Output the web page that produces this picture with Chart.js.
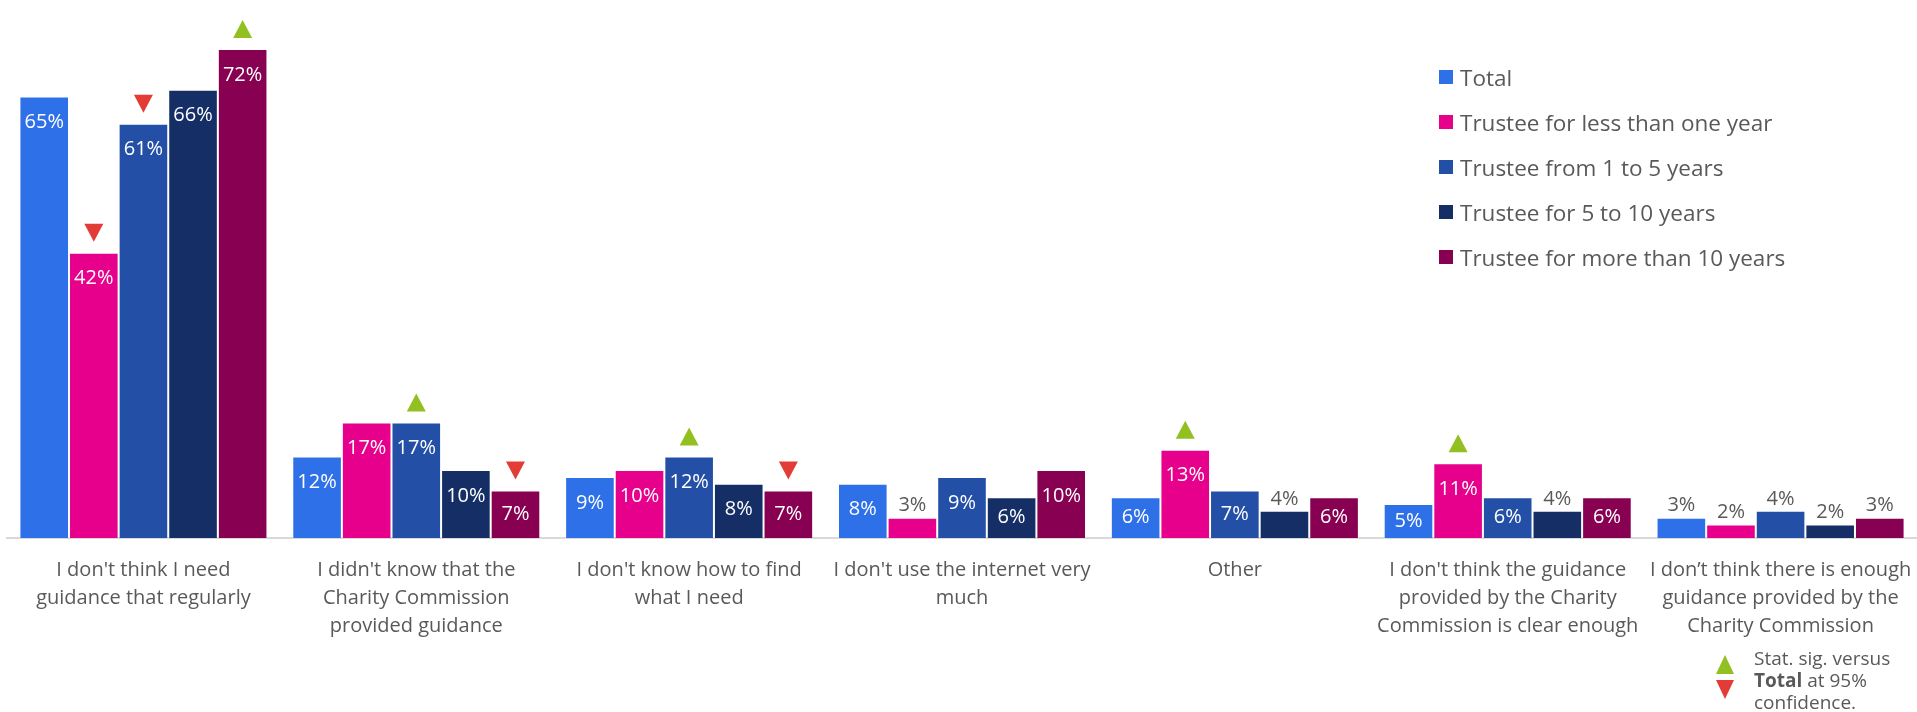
<!DOCTYPE html>
<html lang="en">
<head>
<meta charset="UTF-8">
<title>Reasons for not using Charity Commission guidance, by time as trustee</title>
<script src="https://cdn.jsdelivr.net/npm/chart.js"></script>
<style>
  html, body { margin: 0; padding: 0; background: #fff; overflow: hidden; }
  .wrap { position: relative; width: 1917px; height: 712px; font-family: 'Open Sans', sans-serif; color: #595959; }
  .legend { position: absolute; left: 1439px; top: 66px; }
  .legend-row { display: flex; align-items: center; height: 22px; margin-bottom: 23px; font-size: 22.5px; white-space: nowrap; }
  .legend-swatch { width: 14px; height: 14px; margin-right: 7px; flex: none; }
  .note { position: absolute; left: 1754px; top: 647px; font-size: 19px; line-height: 22px; }
  .tri { position: absolute; left: 1716px; width: 0; height: 0; border-left: 9.5px solid transparent; border-right: 9.5px solid transparent; }
  .tri.up { top: 655px; border-bottom: 19px solid #92c020; }
  .tri.down { top: 680px; border-top: 19px solid #e33b35; }
</style>
</head>
<body>
<div class="wrap">
  <canvas id="chart" width="1917" height="712"></canvas>
  <div class="legend" id="legend"></div>
  <div class="tri up"></div>
  <div class="tri down"></div>
  <div class="note">Stat. sig. versus<br><b>Total</b> at 95%<br>confidence.</div>
</div>

<script>
  const categories = [
    ["I don't think I need", "guidance that regularly"],
    ["I didn't know that the", "Charity Commission", "provided guidance"],
    ["I don't know how to find", "what I need"],
    ["I don't use the internet very", "much"],
    ["Other"],
    ["I don't think the guidance", "provided by the Charity", "Commission is clear enough"],
    ["I don\u2019t think there is enough", "guidance provided by the", "Charity Commission"]
  ];

  const seriesNames = [
    'Total',
    'Trustee for less than one year',
    'Trustee from 1 to 5 years',
    'Trustee for 5 to 10 years',
    'Trustee for more than 10 years'
  ];
  const seriesColors = ['#2e70e8', '#e6008c', '#2350a6', '#152f66', '#870052'];

  // percentages per reason
  const totalVals     = [65, 12, 9, 8, 6, 5, 3];
  const under1Vals    = [42, 17, 10, 3, 13, 11, 2];
  const from1to5Vals  = [61, 17, 12, 9, 7, 6, 4];
  const from5to10Vals = [66, 10, 8, 6, 4, 4, 2];
  const over10Vals    = [72, 7, 7, 10, 6, 6, 3];

  // significance vs Total: 1 = higher, -1 = lower, 0 = none
  const totalSig     = [0, 0, 0, 0, 0, 0, 0];
  const under1Sig    = [-1, 0, 0, 0, 1, 1, 0];
  const from1to5Sig  = [-1, 1, 1, 0, 0, 0, 0];
  const from5to10Sig = [0, 0, 0, 0, 0, 0, 0];
  const over10Sig    = [1, -1, -1, 0, 0, 0, 0];

  const allVals = [totalVals, under1Vals, from1to5Vals, from5to10Vals, over10Vals];
  const allSig = [totalSig, under1Sig, from1to5Sig, from5to10Sig, over10Sig];

  const GREEN = '#92c020';
  const RED = '#e33b35';

  // value labels + significance arrows on top of each bar
  const barMarks = {
    id: 'barMarks',
    afterDatasetsDraw(chart) {
      const ctx = chart.ctx;
      ctx.save();
      ctx.font = '20px "Open Sans"';
      ctx.textAlign = 'center';
      ctx.textBaseline = 'middle';
      chart.data.datasets.forEach((ds, i) => {
        chart.getDatasetMeta(i).data.forEach((bar, j) => {
          const v = ds.data[j];
          const h = bar.base - bar.y;
          if (v < 5) {
            ctx.fillStyle = '#595959';
            ctx.fillText(v + '%', bar.x, bar.y - 12);
          } else {
            ctx.fillStyle = '#ffffff';
            ctx.fillText(v + '%', bar.x, bar.y + Math.min(26, h / 2));
          }
          const s = ds.sig[j];
          if (s) {
            const bottom = bar.y - 11;
            const top = bottom - 18;
            ctx.beginPath();
            if (s > 0) {
              ctx.moveTo(bar.x, top);
              ctx.lineTo(bar.x + 9.5, bottom);
              ctx.lineTo(bar.x - 9.5, bottom);
              ctx.fillStyle = GREEN;
            } else {
              ctx.moveTo(bar.x - 9.5, top);
              ctx.lineTo(bar.x + 9.5, top);
              ctx.lineTo(bar.x, bottom);
              ctx.fillStyle = RED;
            }
            ctx.closePath();
            ctx.fill();
          }
        });
      });
      ctx.restore();
    }
  };

  Chart.defaults.font.family = "'Open Sans', sans-serif";

  new Chart(document.getElementById('chart'), {
    type: 'bar',
    data: {
      labels: categories,
      datasets: seriesNames.map((name, i) => ({
        label: name,
        data: allVals[i],
        sig: allSig[i],
        backgroundColor: seriesColors[i],
        borderColor: 'rgba(255,255,255,0.35)',
        borderWidth: 1,
        categoryPercentage: 0.909,
        barPercentage: 1
      }))
    },
    options: {
      responsive: false,
      animation: false,
      layout: { padding: { top: 11, left: 7, right: 0, bottom: 0 } },
      plugins: {
        legend: { display: false },
        tooltip: { enabled: false }
      },
      scales: {
        x: {
          grid: { display: false, drawTicks: false },
          border: { display: true, color: '#d9d9d9', width: 2 },
          ticks: {
            color: '#595959',
            font: { size: 20, lineHeight: 1.4 },
            padding: 18,
            maxRotation: 0,
            minRotation: 0,
            autoSkip: false
          },
          afterFit(scale) {
            // fixed axis band, and keep the long end labels from squeezing the plot
            scale.height = 174;
            scale.paddingLeft = 0;
            scale.paddingRight = 0;
          }
        },
        y: { display: false, min: 0, max: 77.6 }
      }
    },
    plugins: [barMarks]
  });

  // legend built from the same series
  const legend = document.getElementById('legend');
  seriesNames.forEach((name, i) => {
    const row = document.createElement('div');
    row.className = 'legend-row';
    const sw = document.createElement('span');
    sw.className = 'legend-swatch';
    sw.style.background = seriesColors[i];
    const txt = document.createElement('span');
    txt.textContent = name;
    row.appendChild(sw);
    row.appendChild(txt);
    legend.appendChild(row);
  });
</script>
</body>
</html>
